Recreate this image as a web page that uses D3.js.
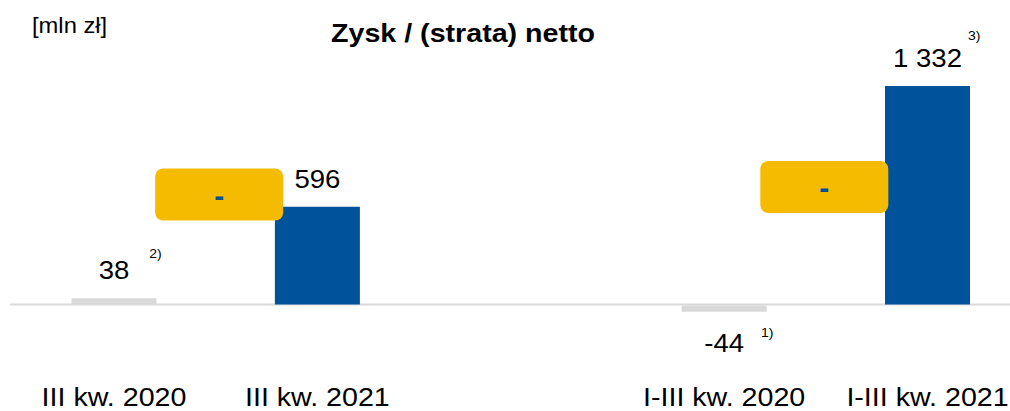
<!DOCTYPE html>
<html>
<head>
    <meta charset="utf-8">
    <title>zysk_netto</title>
    <script type="text/javascript" src="https://cdn.jsdelivr.net/npm/d3@7/dist/d3.min.js"></script>
    <style>
        body { margin: 0; background: #fff; }
        .mytext { font-family: "Liberation Sans", Arial, sans-serif; fill: #000; }
        .title { font-weight: bold; font-size: 26.5px; }
        .unit { font-size: 22px; }
        .val { font-size: 25.5px; }
        .cat { font-size: 26.5px; }
        .foot { font-size: 13px; }
        .chg { font-weight: bold; font-size: 30px; fill: #00529b; }
    </style>
</head>
<body>
<div id="svg_div"></div>
<script type="text/javascript">
    // dane
    var categories = ["III kw. 2020", "III kw. 2021", "I-III kw. 2020", "I-III kw. 2021"],
        values = [38, 596, -44, 1332],
        footnotes = ["2)", "", "1)", "3)"],
        changes = ["-", "-"],   // zmiana r/r w żółtych polach
        title = "Zysk / (strata) netto",
        unit = "[mln zł]";

    var width = 1010,
        height = 411,
        bar_width = 85,
        sx = 1.08,   // lekko rozciągnięty tekst jak w oryginale
        grey = "#d9d9d9",
        blue = "#00529b",
        yellow = "#f5bb00";

    var fmt = d3.formatLocale({decimal: ",", thousands: " ", grouping: [3], currency: ["", ""], minus: "-"}).format(",d");

    var svg = d3.select("#svg_div").append("svg")
        .attr("width", width)
        .attr("height", height);

    // pusta kolumna pomiędzy kwartałem a narastająco
    var slots = [categories[0], categories[1], "gap", categories[2], categories[3]];
    var x = d3.scalePoint().domain(slots).range([114, 927.5]);
    var y = d3.scaleLinear().domain([0, 1332]).range([304.5, 86]);

    function stretch(px, py) { return "translate(" + px + "," + py + ") scale(" + sx + ",1)"; }

    svg.append("text").attr("class", "mytext unit")
        .attr("transform", stretch(32, 33))
        .text(unit);

    svg.append("text").attr("class", "mytext title")
        .attr("text-anchor", "middle")
        .attr("transform", stretch(463, 41.5))
        .text(title);

    // linia zero
    svg.append("line")
        .attr("x1", 10).attr("x2", width)
        .attr("y1", y(0)).attr("y2", y(0))
        .attr("stroke", grey).attr("stroke-width", 2);

    var bars = svg.selectAll(".bar")
        .data(values)
        .enter()
        .append("rect")
        .attr("class", "bar")
        .attr("x", function(d, i){ return x(categories[i]) - bar_width / 2; })
        .attr("y", function(d){ return d >= 0 ? y(d) : y(0) + 1; })
        .attr("width", bar_width)
        .attr("height", function(d){ return Math.abs(y(0) - y(d)) - (d >= 0 ? 0 : 1); })
        .attr("fill", function(d, i){ return categories[i].indexOf("2021") > -1 ? blue : grey; });

    var labels = svg.selectAll(".val")
        .data(values)
        .enter()
        .append("text")
        .attr("class", "mytext val")
        .attr("text-anchor", "middle")
        .attr("transform", function(d, i){
            var py = d >= 0 ? y(d) - 19 : y(d) + 40.5;
            return stretch(x(categories[i]), py);
        })
        .text(function(d){ return fmt(d); });

    // przypisy - odsunięcie od prawej krawędzi etykiety
    var foot_off = [[20, -21], [0, 0], [17, -15], [6, -27]];
    labels.each(function(d, i){
        if (!footnotes[i]) return;
        var w = this.getComputedTextLength() * sx;
        var py = d >= 0 ? y(d) - 19 : y(d) + 40.5;
        svg.append("text").attr("class", "mytext foot")
            .attr("transform", stretch(x(categories[i]) + w / 2 + foot_off[i][0], py + foot_off[i][1]))
            .text(footnotes[i]);
    });

    svg.selectAll(".cat")
        .data(categories)
        .enter()
        .append("text")
        .attr("class", "mytext cat")
        .attr("text-anchor", "middle")
        .attr("transform", function(d){ return stretch(x(d), 405.5); })
        .text(function(d){ return d; });

    // żółte pola ze zmianą
    var box_cy = [194.5, 187];
    var chg_g = svg.selectAll(".chg_g")
        .data(changes)
        .enter()
        .append("g")
        .attr("class", "chg_g")
        .attr("transform", function(d, i){
            var cx = (x(categories[i * 2]) + x(categories[i * 2 + 1])) / 2 + (i == 0 ? 3.5 : -1.5);
            return "translate(" + cx + "," + box_cy[i] + ")";
        });

    chg_g.append("rect")
        .attr("x", -64).attr("y", -26)
        .attr("width", 128).attr("height", 52)
        .attr("rx", 8).attr("ry", 8)
        .attr("fill", yellow);

    chg_g.append("text")
        .attr("class", "mytext chg")
        .attr("text-anchor", "middle")
        .attr("y", 11)
        .text(function(d){ return d; });
</script>
</body>
</html>
